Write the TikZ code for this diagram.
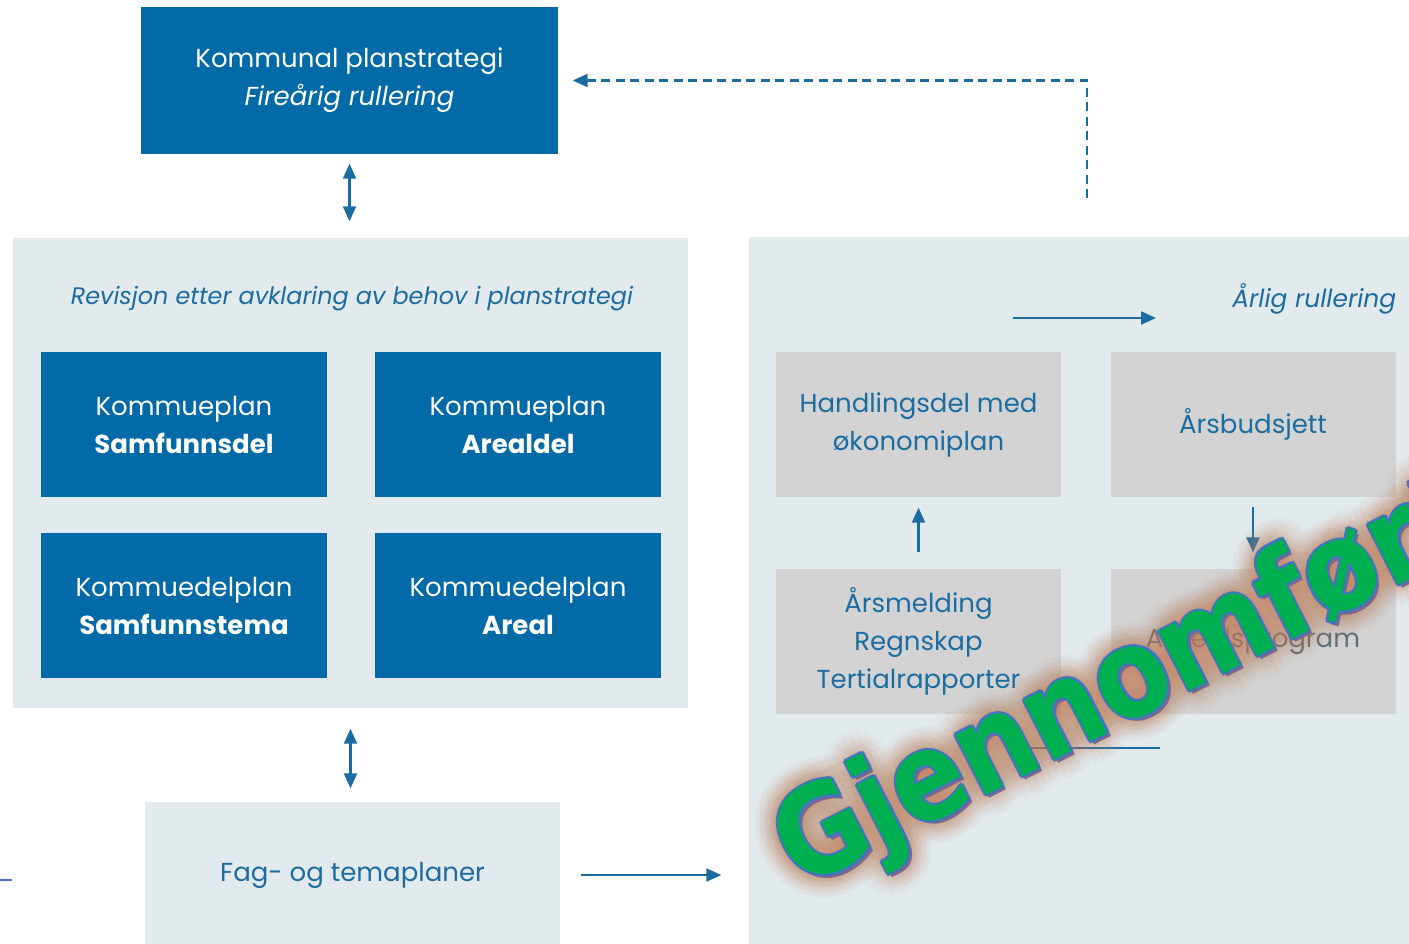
\documentclass[tikz,border=0pt]{standalone}
\usepackage{fontspec}
\setmainfont{Poppins}
\newfontfamily\stampfont{DejaVu Sans}[FakeStretch=0.88]
\usetikzlibrary{arrows.meta}
\definecolor{planblue}{RGB}{2,106,166}
\definecolor{panelgrey}{RGB}{226,234,238}
\definecolor{boxgrey}{RGB}{211,211,211}
\definecolor{textblue}{RGB}{27,108,160}
\definecolor{arbeidgrey}{RGB}{92,110,120}
\definecolor{stampgreen}{RGB}{0,176,80}
\definecolor{stampblue}{RGB}{68,114,196}
\definecolor{stampglow}{RGB}{196,140,105}
\definecolor{stampshadow}{RGB}{125,105,135}
\tikzstyle{plan-node}=[fill=planblue,text=white,minimum width=2.86cm,minimum height=1.45cm,align=center,inner sep=0pt,font=\fontsize{7.4}{10.8}\selectfont]
\tikzstyle{panel-node}=[fill=panelgrey,text=textblue,inner sep=0pt,font=\fontsize{7.4}{10.8}\selectfont]
\tikzstyle{budget-node}=[fill=boxgrey,text=textblue,minimum width=2.85cm,minimum height=1.45cm,align=center,inner sep=0pt,font=\fontsize{7.4}{10.8}\selectfont]
\tikzstyle{label-node}=[text=textblue,inner sep=0pt,font=\fontsize{7.4}{10.8}\selectfont]
\tikzstyle{blue-line}=[draw=textblue,line width=0.6pt]
\tikzstyle{dashed-line}=[dash pattern=on 0.09cm off 0.055cm]
\tikzstyle{stamp-node}=[font=\stampfont\bfseries\fontsize{35}{36}\selectfont,rotate=27,anchor=base west,inner sep=0pt]

\begin{document}
\begin{tikzpicture}
    \useasboundingbox (0,0) rectangle (14.09,-9.43);
    \begin{scope}
        \node (revpanel)[panel-node,minimum width=6.75cm,minimum height=4.70cm] at (3.505,-4.73) {};
        \node (okpanel)[panel-node,minimum width=6.71cm,minimum height=7.23cm] at (10.845,-5.985) {};
        \node (fag)[panel-node,minimum width=4.15cm,minimum height=1.46cm] at (3.525,-8.75) {Fag- og temaplaner};
        \node (strategi)[plan-node,minimum width=4.17cm,minimum height=1.47cm] at (3.495,-0.805) {Kommunal planstrategi\\\textit{Fireårig rullering}};
        \node (revisjon)[label-node,font=\fontsize{6.8}{10}\selectfont] at (3.52,-2.99) {\textit{Revisjon etter avklaring av behov i planstrategi}};
        \node (samfunn)[plan-node] at (1.84,-4.245) {Kommueplan\\\textbf{Samfunnsdel}};
        \node (areal)[plan-node] at (5.18,-4.245) {Kommueplan\\\textbf{Arealdel}};
        \node (tema)[plan-node] at (1.84,-6.055) {Kommuedelplan\\\textbf{Samfunnstema}};
        \node (arealplan)[plan-node] at (5.18,-6.055) {Kommuedelplan\\\textbf{Areal}};
        \node (rullering)[label-node,anchor=east,font=\fontsize{7.1}{10}\selectfont] at (13.97,-2.99) {\textit{Årlig rullering}};
        \node (handling)[budget-node] at (9.185,-4.245) {Handlingsdel med\\økonomiplan};
        \node (budsjett)[budget-node] at (12.53,-4.245) {Årsbudsjett};
        \node (melding)[budget-node] at (9.185,-6.415) {Årsmelding\\Regnskap\\Tertialrapporter};
        \node (arbeid)[budget-node,text=arbeidgrey] at (12.53,-6.415) {Arbeidsprogram};
        \coordinate (aar-start) at (10.13,-3.18);
        \coordinate (aar-end) at (11.56,-3.18);
        \coordinate (dash-start) at (10.87,-1.98);
        \coordinate (line-start) at (10.30,-7.48);
        \coordinate (line-end) at (11.60,-7.48);
        \coordinate (mark-start) at (0,-8.80);
        \coordinate (mark-end) at (0.12,-8.80);
        \coordinate (stamp) at (8.00,-8.90);
    \end{scope}

    \begin{scope}[>={Triangle[width=0.13cm,length=0.15cm]}, every edge/.style=blue-line]
        \path [<->] (strategi.south) edge[shorten <=0.09cm, shorten >=0.16cm] (strategi.south |- revpanel.north);
        \path [<->] (revpanel.south) edge[shorten <=0.20cm, shorten >=0.13cm] (revpanel.south |- fag.north);
        \path [->] (fag.east) edge[shorten <=0.20cm, shorten >=0.27cm] (fag.east -| okpanel.west);
        \path [->] (aar-start) edge (aar-end);
        \path [->] (melding.north) edge[shorten <=0.16cm, shorten >=0.10cm] (melding.north |- handling.south);
        \path [->] (budsjett.south) edge[shorten <=0.09cm, shorten >=0.16cm] (budsjett.south |- arbeid.north);
        \path [->] (dash-start) edge[dashed-line, to path={|- (\tikztotarget)}, shorten >=0.14cm] (strategi.east);
        \path (line-start) edge (line-end);
        \path (mark-start) edge[draw=stampblue,line width=0.4pt] (mark-end);
    \end{scope}

    % stempel
    \begin{scope}
        \foreach \r [count=\i] in {0.04,0.09,0.14,0.19,0.24}
            \foreach \a in {0,20,...,340}
                \node (glow-\i-\a)[stamp-node,text=stampglow,text opacity=0.035] at ([shift={(\a:\r)}]stamp) {Gjennomført};
        \node (stamp-shadow)[stamp-node,text=stampshadow] at ([shift={(0.035,-0.035)}]stamp) {Gjennomført};
        \foreach \a in {0,45,...,315}
            \node (edge-\a)[stamp-node,text=stampblue] at ([shift={(\a:0.02)}]stamp) {Gjennomført};
        \node (stamp-text)[stamp-node,text=stampgreen] at (stamp) {Gjennomført};
    \end{scope}

\end{tikzpicture}
\end{document}
